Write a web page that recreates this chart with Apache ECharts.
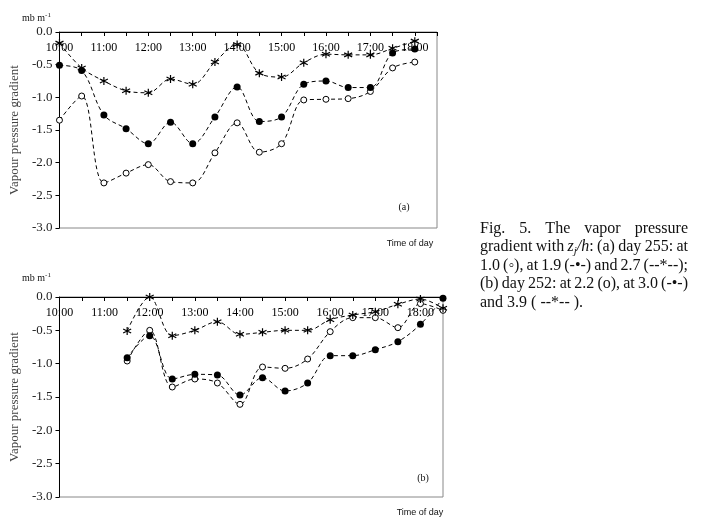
<!DOCTYPE html>
<html>
<head>
<meta charset="utf-8">
<script src="https://cdn.jsdelivr.net/npm/echarts@6/dist/echarts.min.js"></script>
<style>
html,body{margin:0;padding:0;background:#fff;}
#c{width:709px;height:528px;}
</style>
</head>
<body>
<div id="c"></div>
<script>
// Time categories (30-min steps)
var times = ['10:00','10:30','11:00','11:30','12:00','12:30','13:00','13:30','14:00','14:30','15:00','15:30','16:00','16:30','17:00','17:30','18:00','18:30'];
var yTicks = [0.0, -0.5, -1.0, -1.5, -2.0, -2.5, -3.0];

// (a) day 255
var a_open_1_0  = [-1.35,-0.98,-2.31,-2.16,-2.03,-2.29,-2.31,-1.85,-1.39,-1.84,-1.71,-1.04,-1.03,-1.02,-0.91,-0.55,-0.46];
var a_fill_1_9  = [-0.51,-0.59,-1.27,-1.48,-1.71,-1.38,-1.71,-1.30,-0.84,-1.37,-1.30,-0.80,-0.75,-0.85,-0.85,-0.32,-0.26];
var a_star_2_7  = [-0.17,-0.55,-0.75,-0.90,-0.93,-0.72,-0.80,-0.46,-0.19,-0.63,-0.69,-0.47,-0.34,-0.35,-0.35,-0.25,-0.14];

// (b) day 252 (starts 11:30)
var b_open_2_2  = [null,null,null,-0.96,-0.50,-1.35,-1.23,-1.29,-1.61,-1.05,-1.07,-0.93,-0.52,-0.31,-0.31,-0.46,-0.10,-0.20];
var b_fill_3_0  = [null,null,null,-0.91,-0.58,-1.23,-1.16,-1.17,-1.47,-1.21,-1.41,-1.29,-0.88,-0.88,-0.79,-0.67,-0.41,-0.02];
var b_star_3_9  = [null,null,null,-0.51,0.00,-0.58,-0.50,-0.37,-0.56,-0.53,-0.50,-0.50,-0.34,-0.27,-0.22,-0.11,-0.03,-0.17];

// Caption (words; segments allow italic / subscript)
var captionLines = [
  ['Fig.', '5.', 'The', 'vapor', 'pressure'],
  ['gradient', 'with', [{t:'z',it:1},{t:'j',it:1,sub:1},{t:'/h',it:1},{t:':'}], '(a)', 'day', '255:', 'at'],
  ['1.0', '(\u25E6),', 'at', '1.9', '(-\u2022-)', 'and', '2.7', '(--*--);'],
  ['(b)', 'day', '252:', 'at', '2.2', '(o),', 'at', '3.0', '(-\u2022-)'],
  ['and', '3.9', '( --*-- ).']
];

var STAR = 'path://M5,0L5,10M0.7,2.5L9.3,7.5M0.7,7.5L9.3,2.5';
var serif = 'Liberation Serif';

function xAx(gi){
  return {
    gridIndex: gi, type:'category', data: times, position:'top', boundaryGap:false,
    axisLine:{show:true, onZero:false, lineStyle:{color:'#000', width:1}},
    axisTick:{show:true, inside:true, length:4, interval:0, lineStyle:{color:'#000'}},
    axisLabel:{inside:true, interval:1, margin:10, fontFamily:serif, fontSize:12, color:'#000'},
    splitLine:{show:false}
  };
}
function yAx(gi){
  return {
    gridIndex: gi, type:'value', min: yTicks[yTicks.length-1], max: yTicks[0], interval:0.5,
    name:'Vapour pressure gradient', nameLocation:'middle', nameRotate:90, nameGap:35,
    nameTextStyle:{fontFamily:serif, fontSize:13, color:'#444'},
    axisLine:{show:true, lineStyle:{color:'#000', width:1}},
    axisTick:{show:true, length:4, lineStyle:{color:'#000'}},
    axisLabel:{margin:7, fontFamily:serif, fontSize:13, color:'#222', formatter:function(v){return v.toFixed(1);}},
    splitLine:{show:false}
  };
}
function ser(gi, data, kind){
  var s = {
    type:'line', xAxisIndex:gi, yAxisIndex:gi, data:data, smooth:0.35,
    lineStyle:{color:'#000', width:1, type:[4,3]},
    connectNulls:false, animation:false, z: 3, showAllSymbol:true
  };
  if(kind==='open'){ s.symbol='circle'; s.symbolSize=6; s.itemStyle={color:'#fff', borderColor:'#000', borderWidth:1}; }
  else if(kind==='fill'){ s.symbol='circle'; s.symbolSize=7; s.itemStyle={color:'#000'}; }
  else { s.symbol=STAR; s.symbolSize=8; s.itemStyle={color:'rgba(0,0,0,0)', borderColor:'#000', borderWidth:1.2}; }
  return s;
}

// Caption layout (justified) using canvas text measurement
var CAP_SIZE = 16, SUB_SIZE = 11;
var capLeft = 480, capRight = 688;
var capBase = [233, 251.5, 270, 288.5, 307];
var mctx = document.createElement('canvas').getContext('2d');
function fontOf(seg){ return (seg.it ? 'italic ' : '') + (seg.sub ? SUB_SIZE : CAP_SIZE) + 'px "Liberation Serif"'; }
function segsOf(w){ return typeof w === 'string' ? [{t:w}] : w; }
function segW(seg){ mctx.font = fontOf(seg); return mctx.measureText(seg.t).width; }
function wordW(w){ return segsOf(w).reduce(function(s,g){return s+segW(g);},0); }
var capGraphics = [];
mctx.font = CAP_SIZE + 'px "Liberation Serif"';
var spaceW = mctx.measureText(' ').width;
captionLines.forEach(function(words, li){
  var widths = words.map(wordW);
  var total = widths.reduce(function(a,b){return a+b;},0);
  var last = li === captionLines.length-1;
  var gap = last ? spaceW : (capRight - capLeft - total) / (words.length - 1);
  var x = capLeft;
  words.forEach(function(w, wi){
    var sx = x;
    segsOf(w).forEach(function(seg){
      var size = seg.sub ? SUB_SIZE : CAP_SIZE;
      var top = capBase[li] + (seg.sub ? 3 : 0) - size * 0.79;
      capGraphics.push({type:'text', silent:true, style:{
        text: seg.t, x: sx, y: top, align:'left', verticalAlign:'top',
        font: fontOf(seg), fill:'#111'
      }});
      sx += segW(seg);
    });
    x += widths[wi] + gap;
  });
});

var chart = echarts.init(document.getElementById('c'), null, {renderer:'canvas'});
var supRich = {sup:{fontFamily:serif, fontSize:7, fill:'#111', color:'#111', verticalAlign:'top', padding:[0,0,6,0]}};
chart.setOption({
  backgroundColor:'#fff',
  animation:false,
  grid:[
    {left:57, top:32, width:380, height:196, show:true, borderColor:'#888', borderWidth:1, containLabel:false},
    {left:58, top:297, width:385, height:200, show:true, borderColor:'#888', borderWidth:1, containLabel:false}
  ],
  xAxis:[xAx(0), xAx(1)],
  yAxis:[yAx(0), yAx(1)],
  series:[
    ser(0, a_open_1_0, 'open'), ser(0, a_fill_1_9, 'fill'), ser(0, a_star_2_7, 'star'),
    ser(1, b_open_2_2, 'open'), ser(1, b_fill_3_0, 'fill'), ser(1, b_star_3_9, 'star')
  ],
  graphic:[
    {type:'text', style:{text:'mb m{sup|-1}', x:22, y:18, verticalAlign:'middle', font:'10px "Liberation Serif"', fill:'#111', rich:supRich}, silent:true},
    {type:'text', style:{text:'mb m{sup|-1}', x:22, y:278, verticalAlign:'middle', font:'10px "Liberation Serif"', fill:'#111', rich:supRich}, silent:true},
    {type:'text', style:{text:'(a)', x:404, y:207, align:'center', verticalAlign:'middle', font:'10px "Liberation Serif"', fill:'#111'}, silent:true},
    {type:'text', style:{text:'(b)', x:423, y:478, align:'center', verticalAlign:'middle', font:'10px "Liberation Serif"', fill:'#111'}, silent:true},
    {type:'text', style:{text:'Time of day', x:410, y:244, align:'center', verticalAlign:'middle', font:'9px "Liberation Sans"', fill:'#111'}, silent:true},
    {type:'text', style:{text:'Time of day', x:420, y:513, align:'center', verticalAlign:'middle', font:'9px "Liberation Sans"', fill:'#111'}, silent:true}
  ].concat(capGraphics)
});
</script>
</body>
</html>
